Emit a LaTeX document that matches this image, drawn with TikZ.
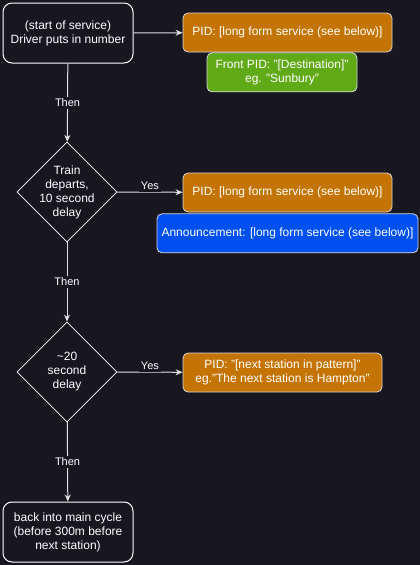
\documentclass[tikz,border=0pt]{standalone}
\usepackage{fontspec}
\setmainfont{Liberation Sans}
\usetikzlibrary{arrows.meta, positioning, shapes.geometric}
\definecolor{bgdark}{RGB}{24,22,31}
\definecolor{pidorange}{RGB}{196,116,4}
\definecolor{frontgreen}{RGB}{96,169,23}
\definecolor{annblue}{RGB}{0,80,239}
\definecolor{linegrey}{RGB}{225,225,225}

\begin{document}
\begin{tikzpicture}[
  x=1pt, y=-1pt,
  font=\fontsize{12}{14}\selectfont,
  terminal/.style={rectangle, rounded corners=9pt, draw=white, line width=1pt,
                   text=white, minimum width=130pt, minimum height=60pt, align=center},
  display/.style={rectangle, rounded corners=5pt, draw=white!85!black, line width=0.8pt,
                  text=white, minimum height=39pt, align=center, inner sep=2pt},
  decision/.style={diamond, draw=white, line width=0.8pt,
                   minimum width=100pt, minimum height=100pt, inner sep=0pt},
  dtext/.style={text=white, align=center},
  tag/.style={font=\fontsize{11}{13}\selectfont, text=white, fill=bgdark, inner sep=2pt},
  arrow/.style={-{Stealth[length=7pt,width=6pt]}, line width=1pt, linegrey}
]
  \fill[bgdark] (0,0) rectangle (420,565);

  % main column
  \node[terminal] (start) at (68,33) {(start of service)\\Driver puts in number};
  \node[decision] (dep)   at (67,192) {};
  \node[dtext] at (dep) {Train\\departs,\\10 second\\delay};
  \node[decision] (wait)  at (67,372) {};
  \node[dtext] at (wait) {\textasciitilde20\\second\\delay};
  \node[terminal] (back)  at (68,532) {back into main cycle\\(before 300m before\\next station)};

  % displays
  \node[display, fill=pidorange, minimum width=209pt] (pidA) at (287.5,32.5)
    {PID: [long form service (see below)]};
  \node[display, fill=frontgreen, minimum width=150pt, below=0pt of pidA, xshift=-5.5pt] (front)
    {Front PID: "[Destination]"\\eg. "Sunbury"};
  \node[display, fill=pidorange, minimum width=209pt] (pidB) at (287.5,192.5)
    {PID: [long form service (see below)]};
  \node[display, fill=annblue, minimum width=261pt, below=1pt of pidB] (ann)
    {Announcement: [long form service (see below)]};
  \node[display, fill=pidorange, minimum width=199pt] (pidC) at (282.5,372.5)
    {PID: "[next station in pattern]"\\eg."The next station is Hampton"};

  \draw[arrow] (start) -- (pidA);
  \draw[arrow] (start) -- node[tag]{Then} (dep);
  \draw[arrow] (dep) -- node[tag, above]{Yes} (pidB);
  \draw[arrow] (dep) -- node[tag]{Then} (wait);
  \draw[arrow] (wait) -- node[tag, above]{Yes} (pidC);
  \draw[arrow] (wait) -- node[tag]{Then} (back);
\end{tikzpicture}
\end{document}
